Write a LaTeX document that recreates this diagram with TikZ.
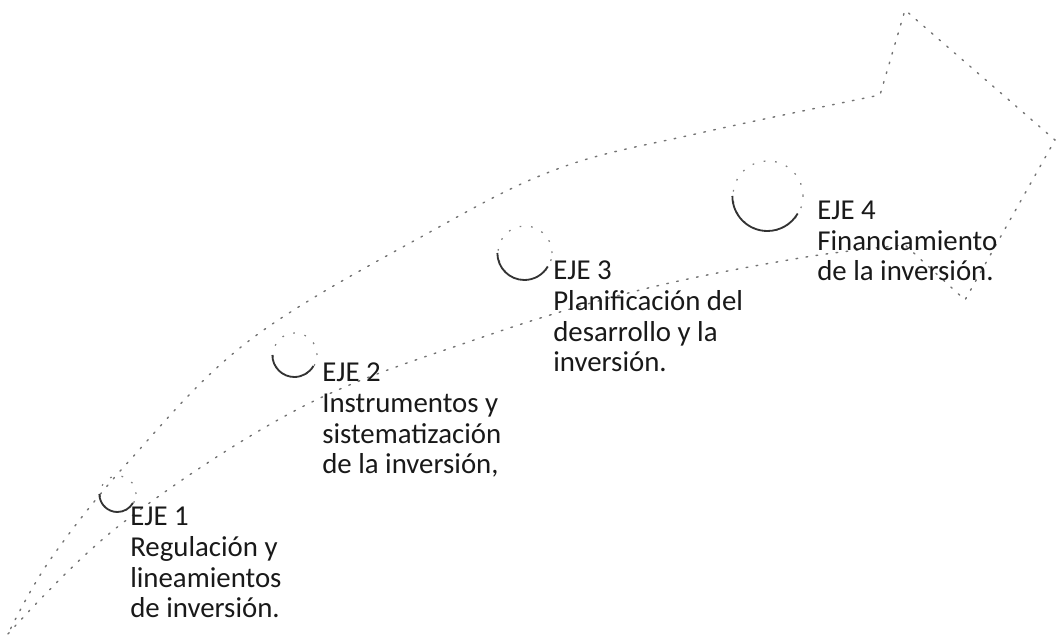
\documentclass[tikz,border=0pt]{standalone}
\usepackage{fontspec}
\setmainfont{Carlito}
\usetikzlibrary{positioning}
\newcommand{\labelfont}{\fontsize{20.5}{22}\selectfont}
\tikzstyle{outline} = [% faint dotted border of the big arrow
  draw=black!55,
  line width=1pt,
  dash pattern=on 1.2pt off 6pt,
  line cap=round
  ]
\tikzstyle{marker} = [% circle sitting on the arrow
  circle,
  draw=black!50,
  line width=0.9pt,
  dash pattern=on 1.2pt off 7pt,
  inner sep=0pt
  ]
\tikzstyle{rim} = [% visible lower rim of a circle
  draw=black!80,
  line width=1.3pt
  ]
\tikzstyle{axis} = [% text of one axis, placed by its last line
  anchor=base west,
  align=left,
  inner sep=0pt,
  text=black!90,
  font=\labelfont
  ]

\begin{document}
\begin{tikzpicture}[x=0.025cm, y=0.025cm]
\useasboundingbox (0,0) rectangle (1060,636);

%%% Arrow
\draw[outline] plot[smooth, tension=0.6] coordinates {(8,2) (120,111) (300,228) (480,298) (640,346) (800,378) (905,391)}
  -- (965,336) -- (1055,496) -- (905,626)
  -- plot[smooth, tension=0.6] coordinates {(880,541) (700,503) (560,468) (430,404) (250,296) (130,176) (50,76) (8,2)};

%%% Circles
\node[marker, minimum size=0.9cm] (c1) at (118,142) {};
\node[marker, minimum size=1.1cm] (c2) at (295,281) {};
\node[marker, minimum size=1.35cm] (c3) at (525,383) {};
\node[marker, minimum size=1.75cm] (c4) at (768,440) {};
\draw[rim] (c1.180) arc[start angle=180, end angle=330, radius=0.45cm];
\draw[rim] (c2.180) arc[start angle=180, end angle=330, radius=0.55cm];
\draw[rim] (c3.180) arc[start angle=180, end angle=330, radius=0.675cm];
\draw[rim] (c4.180) arc[start angle=180, end angle=330, radius=0.875cm];

%%% Labels
\node[axis] (eje1) at (130,18) {EJE 1\\Regulación y\\lineamientos\\de inversión.};
\node[axis] (eje2) at (322,162) {EJE 2\\Instrumentos y\\sistematización\\de la inversión,};
\node[axis] (eje3) at (553,264) {EJE 3\\Planificación del\\desarrollo y la\\inversión.};
\node[axis] (eje4) at (817,355) {EJE 4\\Financiamiento\\de la inversión.};

\end{tikzpicture}
\end{document}
